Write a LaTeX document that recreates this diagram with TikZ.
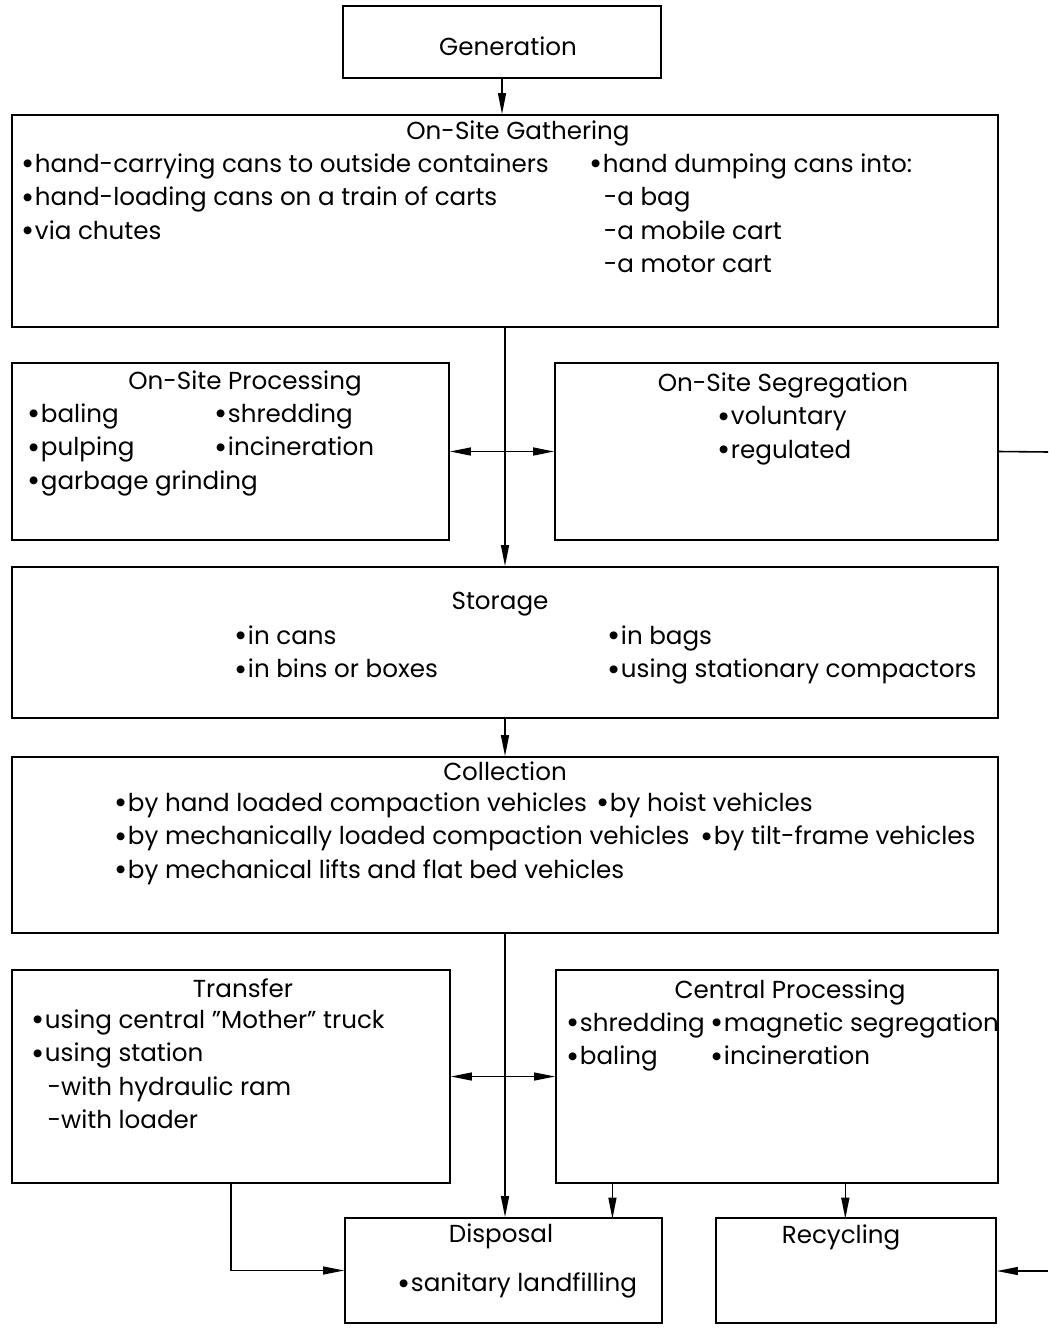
\documentclass[tikz,border=0pt]{standalone}
\usepackage{fontspec}
\setmainfont{Poppins}
\usetikzlibrary{arrows.meta,fit,calc}
\newcommand{\bul}{\raisebox{-0.1em}{\scalebox{1.3}{•}}}

\begin{document}
\begin{tikzpicture}[>={Triangle[length=12pt,width=4.5pt]}, x=0.02cm, y=-0.02cm,
    line width=0.9pt, font=\fontsize{14}{19}\selectfont,
    box/.style={draw, inner sep=0pt, fit={#1}},
    ttl/.style={inner sep=0pt},
    lst/.style={align=left, anchor=north west, inner sep=0pt}]
  \useasboundingbox (0,0) rectangle (1048,1328);
  % boxes, pixel coordinates of the page
  \node[box={(343,6) (661,78)}]      (gen)  {};
  \node[box={(12,115) (998,327)}]    (gath) {};
  \node[box={(12,363) (449,540)}]    (proc) {};
  \node[box={(555,363) (998,540)}]   (seg)  {};
  \node[box={(12,567) (998,718)}]    (stor) {};
  \node[box={(12,757) (998,933)}]    (coll) {};
  \node[box={(12,970) (450,1183)}]   (trans) {};
  \node[box={(556,970) (998,1183)}]  (cent) {};
  \node[box={(345,1218) (662,1323)}] (disp) {};
  \node[box={(716,1218) (996,1323)}] (recy) {};
  % titles
  \node[ttl] (genT)   at (508,46)    {Generation};
  \node[ttl] (gathT)  at (518,133)   {On-Site Gathering};
  \node[ttl] (procT)  at (245,383)   {On-Site Processing};
  \node[ttl] (segT)   at (783,385)   {On-Site Segregation};
  \node[ttl] (storT)  at (500,604)   {Storage};
  \node[ttl] (collT)  at (505,771)   {Collection};
  \node[ttl] (transT) at (243,988)   {Transfer};
  \node[ttl] (centT)  at (790,992)   {Central Processing};
  \node[ttl] (dispT)  at (501,1236)  {Disposal};
  \node[ttl] (recyT)  at (841,1237)  {Recycling};
  % item lists
  \node[lst] (gathL) at (21,153) {\bul hand-carrying cans to outside containers\\
    \bul hand-loading cans on a train of carts\\\bul via chutes};
  \node[lst] (gathR) at (589,153) {\bul hand dumping cans into:\\\hspace*{8pt}-a bag\\
    \hspace*{8pt}-a mobile cart\\\hspace*{8pt}-a motor cart};
  \node[lst] (procL) at (27,403) {\bul baling\\\bul pulping\\\bul garbage grinding};
  \node[lst] (procR) at (214,403) {\bul shredding\\\bul incineration};
  \node[lst] (segL)  at (717,406) {\bul voluntary\\\bul regulated};
  \node[lst] (storL) at (234,625) {\bul in cans\\\bul in bins or boxes};
  \node[lst] (storR) at (607,625) {\bul in bags\\\bul using stationary compactors};
  \node[lst] (collL) at (114,792) {\bul by hand loaded compaction vehicles\\
    \bul by mechanically loaded compaction vehicles\\\bul by mechanical lifts and flat bed vehicles};
  \node[lst] (collA) at (596,792) {\bul by hoist vehicles};
  \node[lst] (collB) at (700,825) {\bul by tilt-frame vehicles};
  \node[lst] (transL) at (31,1009) {\bul using central "Mother" truck\\\bul using station\\
    \hspace*{9pt}-with hydraulic ram\\\hspace*{9pt}-with loader};
  \node[lst] (centL) at (566,1012) {\bul shredding\\\bul baling};
  \node[lst] (centR) at (710,1012) {\bul magnetic segregation\\\bul incineration};
  \node[lst] (dispL) at (397,1272) {\bul sanitary landfilling};
  % loose ends leaving the page on the right
  \coordinate (outA) at (1048,452);
  \coordinate (outB) at (1048,1271);
  % connectors
  \draw[->] (gen) -- (gen |- gath.north);
  \draw[->] (gath.south) -- (stor.north);
  \draw[<->] (proc) -- (seg);
  \draw (seg.east) -- (outA);
  \draw[->] (stor) -- (coll);
  \draw[->] (coll.south) -- (coll.south |- disp.north);
  \draw[<->] (trans) -- (cent);
  \draw[->] (trans.south) |- (disp.west);
  \draw[->] ($(cent.south west)!0.129!(cent.south east)$) -- ++(0,35);
  \draw[->] ($(cent.south west)!0.654!(cent.south east)$) -- ++(0,35);
  \draw[->] (outB) -- (recy.east |- outB);
\end{tikzpicture}
\end{document}
